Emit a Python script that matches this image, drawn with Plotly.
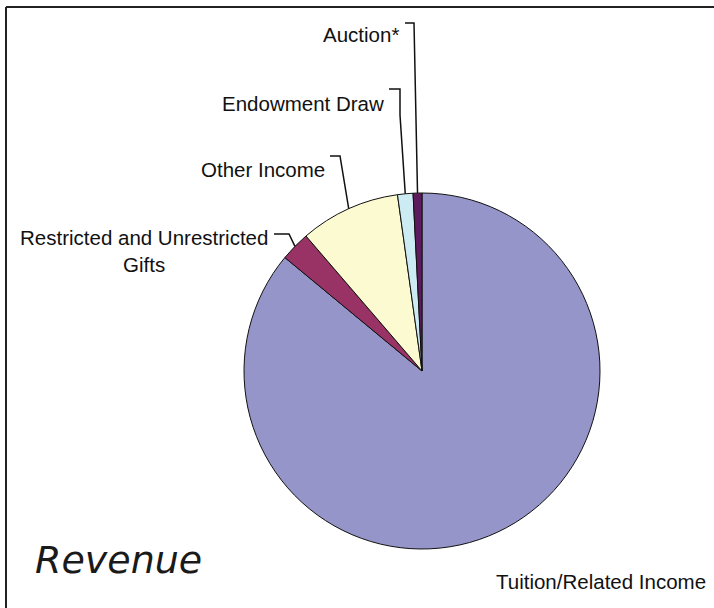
import math
import plotly.graph_objects as go

# ---- data ----
labels = ["Tuition/Related Income", "Restricted and Unrestricted Gifts",
          "Other Income", "Endowment Draw", "Auction*"]
values = [86.0, 2.7, 9.1, 1.4, 0.8]
colors = ["#9595c9", "#993366", "#fcfad0", "#cdebf3", "#5e1a5e"]

W, H = 714, 608
CX, CY, R = 422, 371, 178  # pie placement in pixels (layout)

def px(x):
    return x / W

def py(y):
    return 1 - y / H

LABEL_FONT = dict(family="Liberation Sans, Arial", size=20.5, color="#111111")

fig = go.Figure()
fig.add_trace(go.Pie(
    labels=labels, values=values, sort=False, direction="clockwise", rotation=0,
    marker=dict(colors=colors, line=dict(color="#111111", width=1)),
    textinfo="none", hoverinfo="label+percent", showlegend=False,
    domain=dict(x=[px(CX - R), px(CX + R)], y=[py(CY + R), py(CY - R)]),
))

# label layout: (text right x, text center y, elbow points after edge)
label_layout = {
    "Auction*": (401, 35, [(414, 23), (405, 23)]),
    "Endowment Draw": (386, 103, [(400, 115), (400, 89), (389, 89)]),
    "Other Income": (327, 170, [(340, 156), (330, 156)]),
    "Restricted and Unrestricted Gifts": (270, 237, [(289, 234), (274, 234)]),
}

total = sum(values)
cum = 0.0
shapes = []
annotations = []
for lab, v in zip(labels, values):
    start = cum
    cum += v
    if lab not in label_layout:
        continue
    mid = (start + v / 2) / total * 2 * math.pi  # clockwise from top
    ex = CX + R * math.sin(mid)
    ey = CY - R * math.cos(mid)
    tx, ty, pts = label_layout[lab]
    path = "M %f,%f" % (px(ex), py(ey)) + "".join(" L %f,%f" % (px(a), py(b)) for a, b in pts)
    shapes.append(dict(type="path", xref="paper", yref="paper", path=path,
                       line=dict(color="#111111", width=1.5)))
    if lab.startswith("Restricted"):
        text = "Restricted and Unrestricted<br>Gifts"
        yc = ty + 14
    else:
        text = lab
        yc = ty
    annotations.append(dict(x=px(tx), y=py(yc), xref="paper", yref="paper",
                            text=text, showarrow=False, xanchor="right", yanchor="middle",
                            align="center", font=LABEL_FONT))

annotations.append(dict(x=px(708), y=py(581), xref="paper", yref="paper",
                        text="Tuition/Related Income", showarrow=False,
                        xanchor="right", yanchor="middle", font=LABEL_FONT))
annotations.append(dict(x=px(33), y=py(560), xref="paper", yref="paper",
                        text="<i>Revenue</i>", showarrow=False,
                        xanchor="left", yanchor="middle",
                        font=dict(family="DejaVu Sans", size=38, color="#1a1a1a")))

# frame lines (top and left)
shapes.append(dict(type="line", xref="paper", yref="paper", x0=px(6), y0=py(7), x1=1, y1=py(7),
                   line=dict(color="#222222", width=2)))
shapes.append(dict(type="line", xref="paper", yref="paper", x0=px(6), y0=py(7), x1=px(6), y1=0,
                   line=dict(color="#222222", width=2)))

fig.update_layout(width=W, height=H, margin=dict(l=0, r=0, t=0, b=0),
                  paper_bgcolor="white", plot_bgcolor="white",
                  shapes=shapes, annotations=annotations)
fig.write_html("out.html", config={"displayModeBar": False},
               post_script="document.body.style.margin='0';document.body.style.overflow='hidden';")
